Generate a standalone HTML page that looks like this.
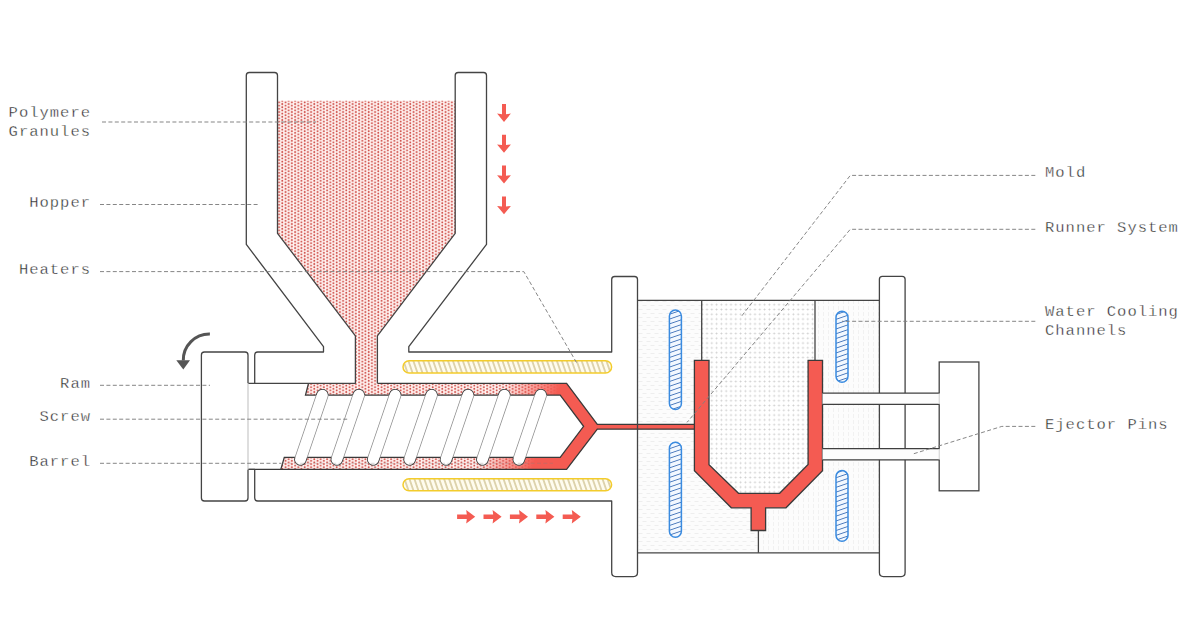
<!DOCTYPE html>
<html><head><meta charset="utf-8">
<style>
html,body{margin:0;padding:0;background:#fff;}
body{width:1189px;height:631px;overflow:hidden;position:relative;}
svg{position:absolute;left:0;top:0;}
.t{font-family:"Liberation Mono",monospace;font-size:15.5px;letter-spacing:1.0px;fill:#262626;stroke:#fff;stroke-width:0.35px;}
</style></head><body>
<svg width="1189" height="631" viewBox="0 0 1189 631">
<defs>
  <pattern id="pdots" patternUnits="userSpaceOnUse" width="6.4" height="3.2" x="277.5" y="100.8">
    <rect width="6.4" height="3.2" fill="#fff1ef"/>
    <circle cx="1.6" cy="1.6" r="0.95" fill="#d0544e"/>
    <circle cx="4.8" cy="0" r="0.95" fill="#d0544e"/>
    <circle cx="4.8" cy="3.2" r="0.95" fill="#d0544e"/>
  </pattern>
  <pattern id="gdots" patternUnits="userSpaceOnUse" width="4.8" height="4.8" x="704.6" y="302.3">
    <rect width="4.8" height="4.8" fill="#fff"/>
    <rect x="1.2" y="2.0" width="2.4" height="0.8" fill="#dcdcdc"/><rect x="2.0" y="1.2" width="0.8" height="2.4" fill="#dcdcdc"/><rect x="2.0" y="2.0" width="0.8" height="0.8" fill="#cacaca"/>
  </pattern>
  <pattern id="mhatch" patternUnits="userSpaceOnUse" width="8" height="8" x="638" y="300">
    <rect width="8" height="8" fill="#fcfcfc"/>
    <line x1="0.5" y1="1.5" x2="4.5" y2="1.5" stroke="#eeeeee" stroke-width="1"/>
    <line x1="4.5" y1="5.5" x2="8.5" y2="5.5" stroke="#eeeeee" stroke-width="1"/>
    <line x1="-3.5" y1="5.5" x2="0.5" y2="5.5" stroke="#eeeeee" stroke-width="1"/>
  </pattern>
  <pattern id="rhatch" patternUnits="userSpaceOnUse" width="5" height="6" x="816" y="300">
    <rect width="5" height="6" fill="#fcfcfc"/>
    <line x1="2.5" y1="0" x2="2.5" y2="4" stroke="#efefef" stroke-width="0.9"/>
  </pattern>
  <pattern id="yhatch" patternUnits="userSpaceOnUse" width="4.95" height="20" patternTransform="skewX(19)">
    <rect width="4.95" height="20" fill="#fffcee"/>
    <line x1="2" y1="0" x2="2" y2="20" stroke="#a99347" stroke-width="0.75"/>
  </pattern>
  <pattern id="bhatch" patternUnits="userSpaceOnUse" width="20" height="4.8" patternTransform="skewY(-19)">
    <rect width="20" height="4.8" fill="#f2f8ff"/>
    <line x1="0" y1="2.4" x2="20" y2="2.4" stroke="#2d62b0" stroke-width="0.8"/>
  </pattern>
  <linearGradient id="redfade" gradientUnits="userSpaceOnUse" x1="492" y1="426" x2="545" y2="426" gradientTransform="rotate(18.8 517 426)">
    <stop offset="0" stop-color="#f45b52" stop-opacity="0"/>
    <stop offset="1" stop-color="#f45b52" stop-opacity="1"/>
  </linearGradient>
  <clipPath id="bandclip"><rect x="240" y="370" width="400" height="25.1"/><rect x="240" y="457.4" width="400" height="20"/></clipPath>
</defs>

<!-- labels -->
<g class="t">
  <text x="91" y="116.5" text-anchor="end">Polymere</text>
  <text x="91" y="135.5" text-anchor="end">Granules</text>
  <text x="91" y="207" text-anchor="end">Hopper</text>
  <text x="91" y="274.2" text-anchor="end">Heaters</text>
  <text x="91" y="388.1" text-anchor="end">Ram</text>
  <text x="91" y="421.2" text-anchor="end">Screw</text>
  <text x="91" y="465.6" text-anchor="end">Barrel</text>
  <text x="1045" y="177.3">Mold</text>
  <text x="1045" y="231.9">Runner System</text>
  <text x="1045" y="316.2">Water Cooling</text>
  <text x="1045" y="335.2">Channels</text>
  <text x="1045" y="429.1">Ejector Pins</text>
</g>

<!-- mold box fill -->
<rect x="637.5" y="300.3" width="241.9" height="252.5" fill="url(#mhatch)"/>
<path d="M815,300.3 H879.4 V552.8 H758.4 V480 H815 Z" fill="url(#rhatch)"/>
<path d="M701.7,300.3 H815 V360.3 H808.1 V464.5 L779.6,493.3 H738.5 L709,464.7 V360.3 H701.7 Z" fill="url(#gdots)"/>

<!-- polymer hopper fill -->
<path d="M277.5,100.8 H455.2 V233.3 L377.4,335.9 V383.3 H355.4 V335.9 L277.5,233.3 Z" fill="url(#pdots)"/>
<!-- barrel band fill -->
<path d="M308.5,383.3 H566.6 L597.3,424.4 V429.2 L566.6,469.4 H280.8 L284.3,457.4 H560.2 L583.6,426.3 L560.2,395.1 H305.5 Z" fill="url(#pdots)"/>
<path d="M308.5,383.3 H566.6 L597.3,424.4 V429.2 L566.6,469.4 H280.8 L284.3,457.4 H560.2 L583.6,426.3 L560.2,395.1 H305.5 Z" fill="url(#redfade)"/>
<!-- runner -->
<rect x="594" y="424.4" width="101" height="4.8" fill="#f45b52"/>
<g fill="none" stroke="#3a3a3a" stroke-width="1.3">
<path d="M308.5,383.3 L305.5,395.1 H560.2 L583.6,426.3 L560.2,457.4 H284.3 L280.8,469.4"/>
<path d="M377.4,383.3 H566.6 L597.3,424.4 H694.4"/>
<path d="M248,469.4 H566.6 L597.3,429.2 H694.4"/>
</g>

<!-- screw flights -->
<g id="flights">
<g stroke-linecap="round">
<line x1="322.4" y1="395.1" x2="300.4" y2="459.4" stroke="#8f8f8f" stroke-width="12.3"/>
<line x1="358.8" y1="395.1" x2="336.8" y2="459.4" stroke="#8f8f8f" stroke-width="12.3"/>
<line x1="395.2" y1="395.1" x2="373.2" y2="459.4" stroke="#8f8f8f" stroke-width="12.3"/>
<line x1="431.6" y1="395.1" x2="409.6" y2="459.4" stroke="#8f8f8f" stroke-width="12.3"/>
<line x1="468.0" y1="395.1" x2="446.0" y2="459.4" stroke="#8f8f8f" stroke-width="12.3"/>
<line x1="504.4" y1="395.1" x2="482.4" y2="459.4" stroke="#8f8f8f" stroke-width="12.3"/>
<line x1="540.8" y1="395.1" x2="518.8" y2="459.4" stroke="#8f8f8f" stroke-width="12.3"/>
<g clip-path="url(#bandclip)">
<line x1="322.4" y1="395.1" x2="300.4" y2="459.4" stroke="#3a3a3a" stroke-width="12.3"/>
<line x1="358.8" y1="395.1" x2="336.8" y2="459.4" stroke="#3a3a3a" stroke-width="12.3"/>
<line x1="395.2" y1="395.1" x2="373.2" y2="459.4" stroke="#3a3a3a" stroke-width="12.3"/>
<line x1="431.6" y1="395.1" x2="409.6" y2="459.4" stroke="#3a3a3a" stroke-width="12.3"/>
<line x1="468.0" y1="395.1" x2="446.0" y2="459.4" stroke="#3a3a3a" stroke-width="12.3"/>
<line x1="504.4" y1="395.1" x2="482.4" y2="459.4" stroke="#3a3a3a" stroke-width="12.3"/>
<line x1="540.8" y1="395.1" x2="518.8" y2="459.4" stroke="#3a3a3a" stroke-width="12.3"/>
</g>
<line x1="322.4" y1="395.1" x2="300.4" y2="459.4" stroke="#ffffff" stroke-width="10.8"/>
<line x1="358.8" y1="395.1" x2="336.8" y2="459.4" stroke="#ffffff" stroke-width="10.8"/>
<line x1="395.2" y1="395.1" x2="373.2" y2="459.4" stroke="#ffffff" stroke-width="10.8"/>
<line x1="431.6" y1="395.1" x2="409.6" y2="459.4" stroke="#ffffff" stroke-width="10.8"/>
<line x1="468.0" y1="395.1" x2="446.0" y2="459.4" stroke="#ffffff" stroke-width="10.8"/>
<line x1="504.4" y1="395.1" x2="482.4" y2="459.4" stroke="#ffffff" stroke-width="10.8"/>
<line x1="540.8" y1="395.1" x2="518.8" y2="459.4" stroke="#ffffff" stroke-width="10.8"/>
</g>
</g>

<!-- housing strokes -->
<g fill="none" stroke="#444" stroke-width="1.3" stroke-linejoin="round">
  <path d="M254.7,383.3 V355 Q254.7,352 257.7,352 H323.5 V346.6 L246.3,244.4 V75.5 Q246.3,72.5 249.3,72.5 H274.5 Q277.5,72.5 277.5,75.5 V233.3 L355.4,335.9 V383.3 H248"/>
  <path d="M377.4,383.3 V335.9 L455.2,233.3 V75.5 Q455.2,72.5 458.2,72.5 H483.5 Q486.5,72.5 486.5,75.5 V244.4 L408.8,346.6 V352 H611.7 V279.5 Q611.7,276.5 614.7,276.5 H634.5 Q637.5,276.5 637.5,279.5 V572.6 Q637.5,576.6 633.5,576.6 H615.7 Q611.7,576.6 611.7,572.6 V501 H257.7 Q254.7,501 254.7,498 V469.4 H248"/>
  <!-- ram -->
  <path d="M248,383.3 V355 Q248,352 245,352 H204.4 Q201.4,352 201.4,355 V498 Q201.4,501 204.4,501 H245 Q248,501 248,498 V469.4"/>
</g>
<line x1="248" y1="383.3" x2="248" y2="469.4" stroke="#c8c8c8" stroke-width="1.2"/>

<!-- mold strokes -->
<g fill="none" stroke="#444" stroke-width="1.3">
  <path d="M637.5,300.3 H879.4"/>
  <path d="M637.5,552.8 H879.4"/>
  <path d="M701.7,300.3 V360.3"/>
  <path d="M815,300.3 V360.3"/>
  <path d="M758.4,530.5 V552.8"/>
  <path d="M879.4,279.3 Q879.4,276.3 882.4,276.3 H902.1 Q905.1,276.3 905.1,279.3 V572.6 Q905.1,576.6 901.1,576.6 H883.4 Q879.4,576.6 879.4,572.6 Z"/>
  <rect x="939.2" y="362" width="39.7" height="128.8"/>
</g>

<!-- cavity -->
<path d="M694.4,360.3 H709 V464.7 L738.5,493.3 H779.6 L808.1,464.5 V360.3 H822.5 V470.8 L786,507.8 H765.6 V530.5 H751.1 V507.8 H731.3 L694.4,470.7 Z" fill="#f45b52" stroke="#3a3a3a" stroke-width="1.3"/>

<!-- ejector pins -->
<g>
  <rect x="822.5" y="393.1" width="116.9" height="11.3" fill="#fdfdfd"/>
  <rect x="822.5" y="448.6" width="116.9" height="11.3" fill="#fdfdfd"/>
  <g stroke="#3f3f3f" stroke-width="1.4">
    <line x1="822.5" y1="393.1" x2="939.2" y2="393.1"/>
    <line x1="822.5" y1="404.4" x2="939.2" y2="404.4"/>
    <line x1="822.5" y1="448.6" x2="939.2" y2="448.6"/>
    <line x1="822.5" y1="459.9" x2="939.2" y2="459.9"/>
  </g>
  <line x1="939.2" y1="393.8" x2="939.2" y2="403.7" stroke="#e4e4e4" stroke-width="1.4"/>
  <line x1="939.2" y1="449.3" x2="939.2" y2="459.2" stroke="#e4e4e4" stroke-width="1.4"/>
</g>

<!-- heaters -->
<g stroke="#f3cc2c" stroke-width="1.5" fill="url(#yhatch)">
  <rect x="403" y="360.8" width="208.6" height="12.2" rx="6.1"/>
  <rect x="403" y="478.7" width="208.6" height="12.1" rx="6.05"/>
</g>

<!-- cooling channels -->
<g stroke="#3a8be0" stroke-width="1.5" fill="url(#bhatch)">
  <rect x="669.4" y="310" width="12" height="99.6" rx="6"/>
  <rect x="669.4" y="442.3" width="12" height="95" rx="6"/>
  <rect x="836" y="311.2" width="12" height="71.1" rx="6"/>
  <rect x="836" y="470.6" width="12" height="70.6" rx="6"/>
</g>

<!-- leader lines -->
<g fill="none" stroke="#7f7f7f" stroke-width="0.95" stroke-dasharray="4 2.4">
  <path d="M102,122 H316"/>
  <path d="M100,204.5 H260"/>
  <path d="M100,271.6 H523.8 L577,363.4"/>
  <path d="M100,385.3 H210"/>
  <path d="M100,419.2 H349"/>
  <path d="M100,463.3 H281"/>
  <path d="M281,463.3 H553" opacity="0.35"/>
  <path d="M1035.3,175.4 H850.3 L741.5,316.3"/>
  <path d="M1035.3,229.3 H850.3 L687,422.4"/>
  <path d="M1035.3,321.3 H842"/>
  <path d="M1035.3,426.4 H1001.8 L913.5,453.8"/>
</g>

<!-- arrows -->
<g fill="#f45b52">
  <path d="M502,104 H506 V114.2 L510.9,113.6 L504,121.9 L497.1,113.6 L502,114.2 Z"/>
  <path transform="translate(0,30.8)" d="M502,104 H506 V114.2 L510.9,113.6 L504,121.9 L497.1,113.6 L502,114.2 Z"/>
  <path transform="translate(0,61.6)" d="M502,104 H506 V114.2 L510.9,113.6 L504,121.9 L497.1,113.6 L502,114.2 Z"/>
  <path transform="translate(0,92.4)" d="M502,104 H506 V114.2 L510.9,113.6 L504,121.9 L497.1,113.6 L502,114.2 Z"/>
  <path d="M457.1,514.4 H466.8 L466.2,510.1 L475.2,516.7 L466.2,523.4 L466.8,519 H457.1 Z"/>
  <path transform="translate(26.4,0)" d="M457.1,514.4 H466.8 L466.2,510.1 L475.2,516.7 L466.2,523.4 L466.8,519 H457.1 Z"/>
  <path transform="translate(52.8,0)" d="M457.1,514.4 H466.8 L466.2,510.1 L475.2,516.7 L466.2,523.4 L466.8,519 H457.1 Z"/>
  <path transform="translate(79.2,0)" d="M457.1,514.4 H466.8 L466.2,510.1 L475.2,516.7 L466.2,523.4 L466.8,519 H457.1 Z"/>
  <path transform="translate(105.6,0)" d="M457.1,514.4 H466.8 L466.2,510.1 L475.2,516.7 L466.2,523.4 L466.8,519 H457.1 Z"/>
</g>
<!-- curved arrow -->
<path d="M209.9,334 A26.1,26.1 0 0 0 183.3,360.5" fill="none" stroke="#555" stroke-width="3"/>
<path d="M176.3,360.3 H190 L183.3,369.5 Z" fill="#555"/>
</svg>
</body></html>
